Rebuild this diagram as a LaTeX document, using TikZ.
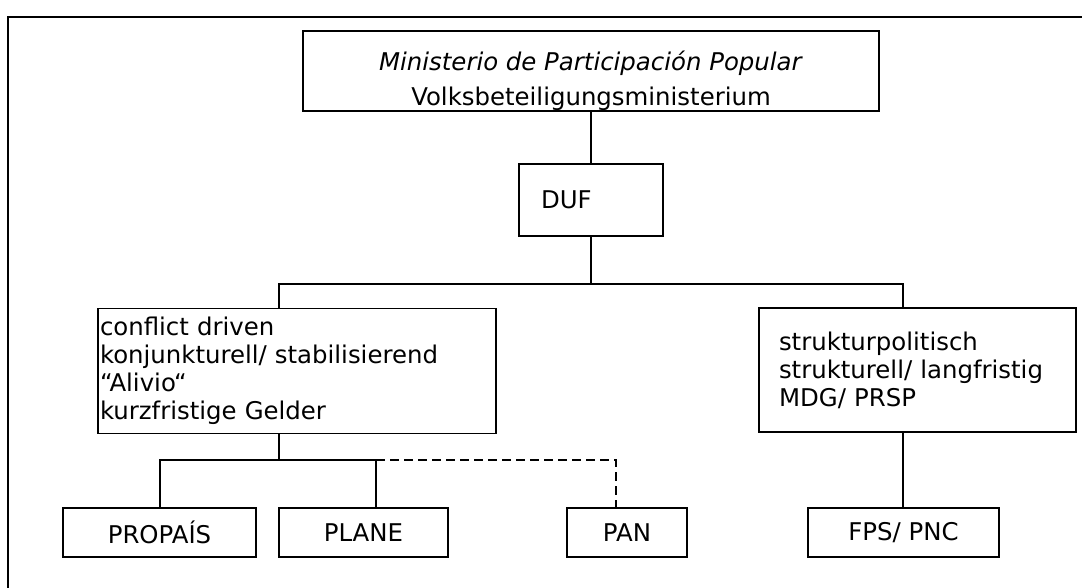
\documentclass[tikz,border=0pt]{standalone}
\usepackage{fontspec}
\setmainfont{DejaVu Sans}
\begin{document}
\begin{tikzpicture}[x=0.75pt,y=-0.75pt,
  box/.style={draw, line width=1.4pt, inner sep=0pt, font=\fontsize{18.3}{21}\selectfont},
  conn/.style={line width=1.4pt},
  dconn/.style={line width=1.4pt, dash pattern=on 6.5pt off 4pt}]
\useasboundingbox (0,0) rectangle (1082,588);
\draw[conn] (1082,17) -- (8,17) -- (8,588);
% boxes
\node[box, minimum width=576*0.75pt, minimum height=80*0.75pt, align=center] (top) at (591,71)
  {\rule{0pt}{29pt}\textit{Ministerio de Participación Popular}\\[5.25pt]Volksbeteiligungsministerium};
\node[box, minimum height=72*0.75pt, text width=100*0.75pt, inner xsep=22*0.75pt, align=left] (duf) at (591,200) {DUF};
\node[box, minimum height=125*0.75pt, text width=394*0.75pt, inner xsep=2*0.75pt, align=left] (left) at (297,371)
  {conflict driven\\konjunkturell/ stabilisierend\\“Alivio“\\kurzfristige Gelder};
\node[box, minimum height=124*0.75pt, text width=277*0.75pt, inner xsep=20*0.75pt, align=left] (right) at (917.5,370)
  {strukturpolitisch\\strukturell/ langfristig\\MDG/ PRSP};
\node[box, minimum width=193*0.75pt, minimum height=49*0.75pt] (propais) at (159.5,532.5) {PROPAÍS};
\node[box, minimum width=169*0.75pt, minimum height=49*0.75pt] (plane) at (363.5,532.5) {PLANE};
\node[box, minimum width=120*0.75pt, minimum height=49*0.75pt] (pan) at (627,532.5) {PAN};
\node[box, minimum width=191*0.75pt, minimum height=49*0.75pt] (fps) at (903.5,532.5) {FPS/ PNC};
% junctions
\coordinate (bus) at (591,284);
\coordinate (busL) at (279,284);
\coordinate (busR) at (903,284);
\coordinate (b2) at (279,460);
\coordinate (c1) at (160,460);
\coordinate (c2) at (376,460);
\coordinate (c3) at (616,460);
% connectors
\draw[conn] (top.south) -- (duf.north);
\draw[conn] (duf.south) -- (bus);
\draw[conn] (left.north -| busL) -- (busL) -- (busR) -- (right.north -| busR);
\draw[conn] (left.south -| b2) -- (b2);
\draw[conn] (propais.north -| c1) -- (c1) -- (c2) -- (plane.north -| c2);
\draw[dconn] (c2) -- (c3) -- (pan.north -| c3);
\draw[conn] (right.south -| busR) -- (fps.north -| busR);
\end{tikzpicture}
\end{document}
